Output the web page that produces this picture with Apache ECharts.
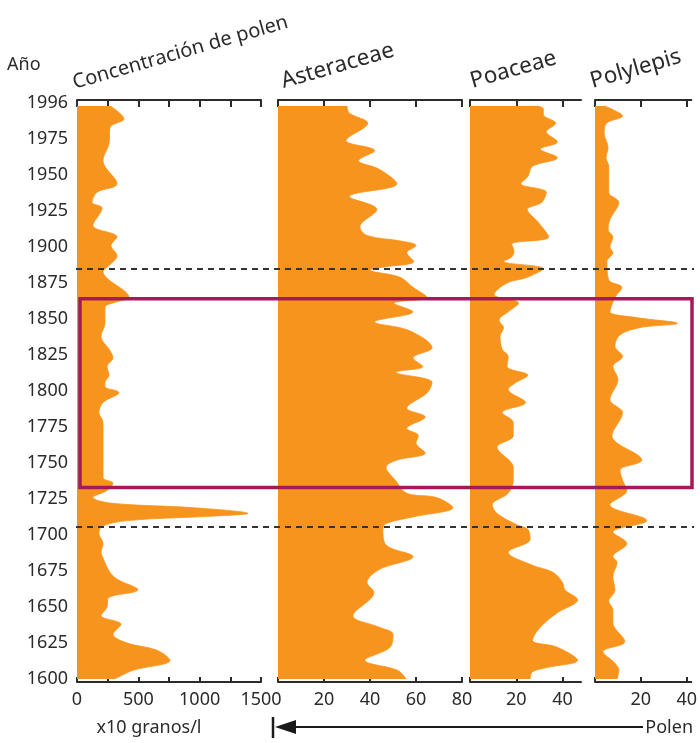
<!DOCTYPE html>
<html>
<head>
<meta charset="utf-8">
<script src="https://cdn.jsdelivr.net/npm/echarts@6/dist/echarts.min.js"></script>
<style>
  html, body { margin: 0; background: #fff; }
  #chart { width: 700px; height: 743px; }
</style>
</head>
<body>
<div id="chart"></div>
<script>
// eje vertical: años (categorías 1600..2000, la marca superior se rotula 1996)
const years = [];
for (let y = 1600; y <= 2000; y++) years.push(String(y));

// concentración de polen (x10 granos/l)
const concYears = [1998, 1989, 1983, 1972, 1960, 1944, 1938, 1931, 1927, 1915, 1907, 1901, 1894, 1886, 1883, 1865, 1862, 1858, 1847, 1838,
  1828, 1823, 1817, 1811, 1806, 1803, 1799, 1792, 1785, 1778, 1740, 1736, 1731, 1726, 1722, 1719, 1715, 1713, 1710, 1706,
  1701, 1694, 1688, 1684, 1674, 1669, 1662, 1656, 1650, 1644, 1638, 1631, 1625, 1620, 1613, 1606, 1600];
const concValues = [270, 383, 269, 261, 212, 326, 163, 122, 204, 130, 326, 277, 326, 245, 212, 424, 326, 228, 228, 196,
  269, 293, 245, 261, 228, 228, 342, 212, 179, 212, 212, 293, 245, 130, 285, 945, 1394, 1084, 408, 204,
  179, 212, 196, 212, 269, 334, 497, 253, 245, 196, 359, 293, 408, 652, 758, 456, 310];

// Asteraceae (%)
const asterYears = [1998, 1993, 1986, 1974, 1967, 1960, 1954, 1944, 1935, 1926, 1914, 1908, 1904, 1901, 1896, 1890, 1886, 1884, 1879, 1872,
  1865, 1861, 1855, 1848, 1842, 1830, 1823, 1817, 1813, 1806, 1799, 1788, 1782, 1774, 1769, 1764, 1757, 1752, 1747, 1738,
  1729, 1726, 1719, 1713, 1708, 1704, 1693, 1685, 1676, 1667, 1660, 1644, 1636, 1631, 1622, 1613, 1606, 1600];
const asterValues = [30, 31, 39, 29.6, 42, 35, 44, 51.7, 31, 43, 35.6, 38.7, 54, 60, 56, 59, 45.6, 40, 53, 58.7,
  64.8, 50.4, 58.7, 42, 57, 67, 58.7, 63, 51.3, 67, 65, 56, 64, 56, 61, 60, 64, 51.7, 47, 51,
  56, 69, 76, 60, 47, 45.6, 47, 58.7, 44, 38.7, 41.7, 32.6, 44, 50, 48.7, 37.8, 52, 55.7];

// Poaceae (%)
const poaYears = [1998, 1996, 1992, 1986, 1980, 1973, 1968, 1962, 1956, 1949, 1944, 1938, 1931, 1926, 1917, 1907, 1902, 1897, 1893, 1890,
  1885, 1879, 1875, 1867, 1861, 1856, 1849, 1844, 1838, 1829, 1824, 1817, 1811, 1806, 1801, 1792, 1785, 1778, 1769, 1761,
  1747, 1738, 1729, 1721, 1715, 1707, 1704, 1697, 1688, 1679, 1674, 1667, 1662, 1655, 1646, 1636, 1627, 1622, 1613, 1608,
  1605, 1600];
const poaValues = [29, 31.7, 31.7, 37, 33, 37.8, 30.4, 37.8, 27, 25, 22, 33, 31, 24.8, 29.6, 34, 18, 19, 18, 14.5,
  31.7, 24.8, 16, 10.4, 21, 17.4, 12.6, 14.5, 13, 13.9, 16.5, 16, 25, 20, 16.5, 24, 13.9, 18.7, 18.7, 11.7,
  18.7, 18.7, 16.5, 9.6, 11.7, 20.4, 25, 26, 16.5, 27, 36, 40, 41, 46.5, 37.8, 30.4, 27, 37.8, 46.5, 33.5,
  27, 26];

// Polylepis (%)
const polyYears = [1998, 1996, 1991, 1986, 1979, 1969, 1962, 1956, 1938, 1931, 1919, 1912, 1907, 1900, 1896, 1890, 1877, 1872, 1865, 1860,
  1855, 1851, 1847, 1844, 1839, 1831, 1824, 1817, 1808, 1794, 1785, 1769, 1752, 1745, 1738, 1731, 1721, 1710, 1702, 1694,
  1685, 1681, 1671, 1662, 1654, 1648, 1639, 1626, 1619, 1611, 1606, 1600];
const polyValues = [4, 7, 12, 5, 4, 5.7, 4.8, 6, 6, 10.4, 6.5, 5.7, 7.8, 6.5, 7.8, 5.2, 6, 11.7, 8.7, 7.4,
  6.5, 18, 36, 19.6, 10.9, 8.7, 12, 7.8, 10, 6.5, 12, 7.4, 20.4, 10.9, 12, 13.9, 6.5, 22.6, 7.8, 13.9,
  7.8, 9.6, 7.8, 8.7, 6, 7.8, 7.8, 13, 3.5, 8.7, 10.4, 9.6];

// líneas discontinuas y recuadro
const dashedYears = ['1885', '1706'];
const boxYears = ['1733', '1864'];

// ejes x
const concTicks = [0, 250, 500, 750, 1000, 1250, 1500];
const concLabels = [0, 500, 1000, 1500];
const asterTicks = [0, 20, 40, 60, 80];
const pctLabels = [20, 40, 60, 80];
const smallTicks = [0, 20, 40];

const ORANGE = '#f7941d';
const INK = '#2b2b2b';
const FONT = 'Noto Sans';

const chart = echarts.init(document.getElementById('chart'));

const panels = [
  { left: 77, width: 184, max: 1500, ticks: concTicks, labels: concLabels, yrs: concYears, vals: concValues },
  { left: 278, width: 184, max: 80, ticks: asterTicks, labels: pctLabels, yrs: asterYears, vals: asterValues },
  { left: 470, width: 111, max: 48, ticks: smallTicks, labels: [20, 40], yrs: poaYears, vals: poaValues },
  { left: 595, width: 97, max: 42, ticks: smallTicks, labels: [20, 40], yrs: polyYears, vals: polyValues }
];

const grid = [], xAxis = [], yAxis = [], series = [];

function yAxisFor(i, show) {
  return {
    type: 'category', gridIndex: i, data: years, boundaryGap: false,
    axisLine: { show: false }, axisTick: { show: false }, splitLine: { show: false },
    axisLabel: {
      show: show, margin: 9, color: INK, fontSize: 18, fontFamily: FONT,
      interval: (idx, v) => (+v) % 25 === 0,
      formatter: v => v === '2000' ? '1996' : v
    }
  };
}

panels.forEach((p, i) => {
  grid.push({ left: p.left, width: p.width, top: 103, height: 576 });
  const common = {
    type: 'value', gridIndex: i, min: 0, max: p.max, splitLine: { show: false },
    axisLine: { show: true, lineStyle: { color: INK, width: 2 } },
    axisTick: { show: true, inside: true, length: 7, customValues: p.ticks, lineStyle: { color: INK, width: 2 } }
  };
  xAxis.push(Object.assign({}, common, { position: 'top', offset: 3, axisLabel: { show: false } }));
  xAxis.push(Object.assign({}, common, {
    position: 'bottom', offset: 3,
    axisTick: Object.assign({}, common.axisTick, { length: 5 }),
    axisLabel: { show: true, customValues: p.labels, margin: 9, color: INK, fontSize: 18, fontFamily: FONT,
      formatter: v => String(v) }
  }));
  yAxis.push(yAxisFor(i, i === 0));
  series.push({
    type: 'line', xAxisIndex: 2 * i + 1, yAxisIndex: i,
    data: p.vals.map((v, k) => [v, String(p.yrs[k])]),
    smooth: 0.35, symbol: 'none', silent: true,
    lineStyle: { width: 0.8, color: ORANGE },
    areaStyle: { color: ORANGE, opacity: 1 }
  });
});

// capas superiores: discontinuas y recuadro
grid.push({ left: 76, width: 618, top: 103, height: 576 });
grid.push({ left: 80, width: 612, top: 103, height: 576 });
[4, 5].forEach(g => {
  xAxis.push({ type: 'value', gridIndex: g, min: 0, max: 1, show: false });
  yAxis.push(Object.assign(yAxisFor(g, false), { show: false }));
});
series.push({
  type: 'line', xAxisIndex: 8, yAxisIndex: 4, data: [], z: 10, silent: true,
  markLine: {
    z: 10, silent: true, symbol: 'none', label: { show: false },
    lineStyle: { type: [6, 5], color: '#333', width: 2 },
    data: dashedYears.map(y => ({ yAxis: y }))
  }
});
series.push({
  type: 'line', xAxisIndex: 9, yAxisIndex: 5, data: [], z: 11, silent: true,
  markArea: {
    z: 11, silent: true, label: { show: false },
    itemStyle: { color: 'rgba(0,0,0,0)', borderColor: '#a3195b', borderWidth: 3.5 },
    data: [[{ xAxis: 0, yAxis: boxYears[0] }, { xAxis: 1, yAxis: boxYears[1] }]]
  }
});

const rot = 16 * Math.PI / 180;
function title(text, x, y, size) {
  return { type: 'text', x: x, y: y, rotation: rot,
    style: { text: text, fontSize: size, fontFamily: FONT, fill: INK, textAlign: 'left', textVerticalAlign: 'bottom' } };
}

const option = {
  animation: false,
  grid: grid, xAxis: xAxis, yAxis: yAxis, series: series,
  graphic: [
    { type: 'text', x: 7, y: 65, style: { text: 'Año', fontSize: 18, fontFamily: FONT, fill: INK, textVerticalAlign: 'middle' } },
    title('Concentración de polen', 76, 93, 20),
    title('Asteraceae', 285, 93, 22.5),
    title('Poaceae', 474, 93, 22.5),
    title('Polylepis', 594, 93, 22.5),
    { type: 'text', x: 149, y: 728, style: { text: 'x10 granos/l', fontSize: 18, fontFamily: FONT, fill: INK, textAlign: 'center', textVerticalAlign: 'middle' } },
    { type: 'text', x: 693, y: 728, style: { text: 'Polen', fontSize: 18, fontFamily: FONT, fill: INK, textAlign: 'right', textVerticalAlign: 'middle' } },
    { type: 'line', shape: { x1: 290, y1: 727, x2: 643, y2: 727 }, style: { stroke: '#1a1a1a', lineWidth: 2 } },
    { type: 'line', shape: { x1: 273, y1: 717, x2: 273, y2: 738 }, style: { stroke: '#1a1a1a', lineWidth: 2.5 } },
    { type: 'polygon', shape: { points: [[275, 727], [296, 720], [296, 734]] }, style: { fill: '#1a1a1a' } }
  ]
};
chart.setOption(option);
</script>
</body>
</html>
